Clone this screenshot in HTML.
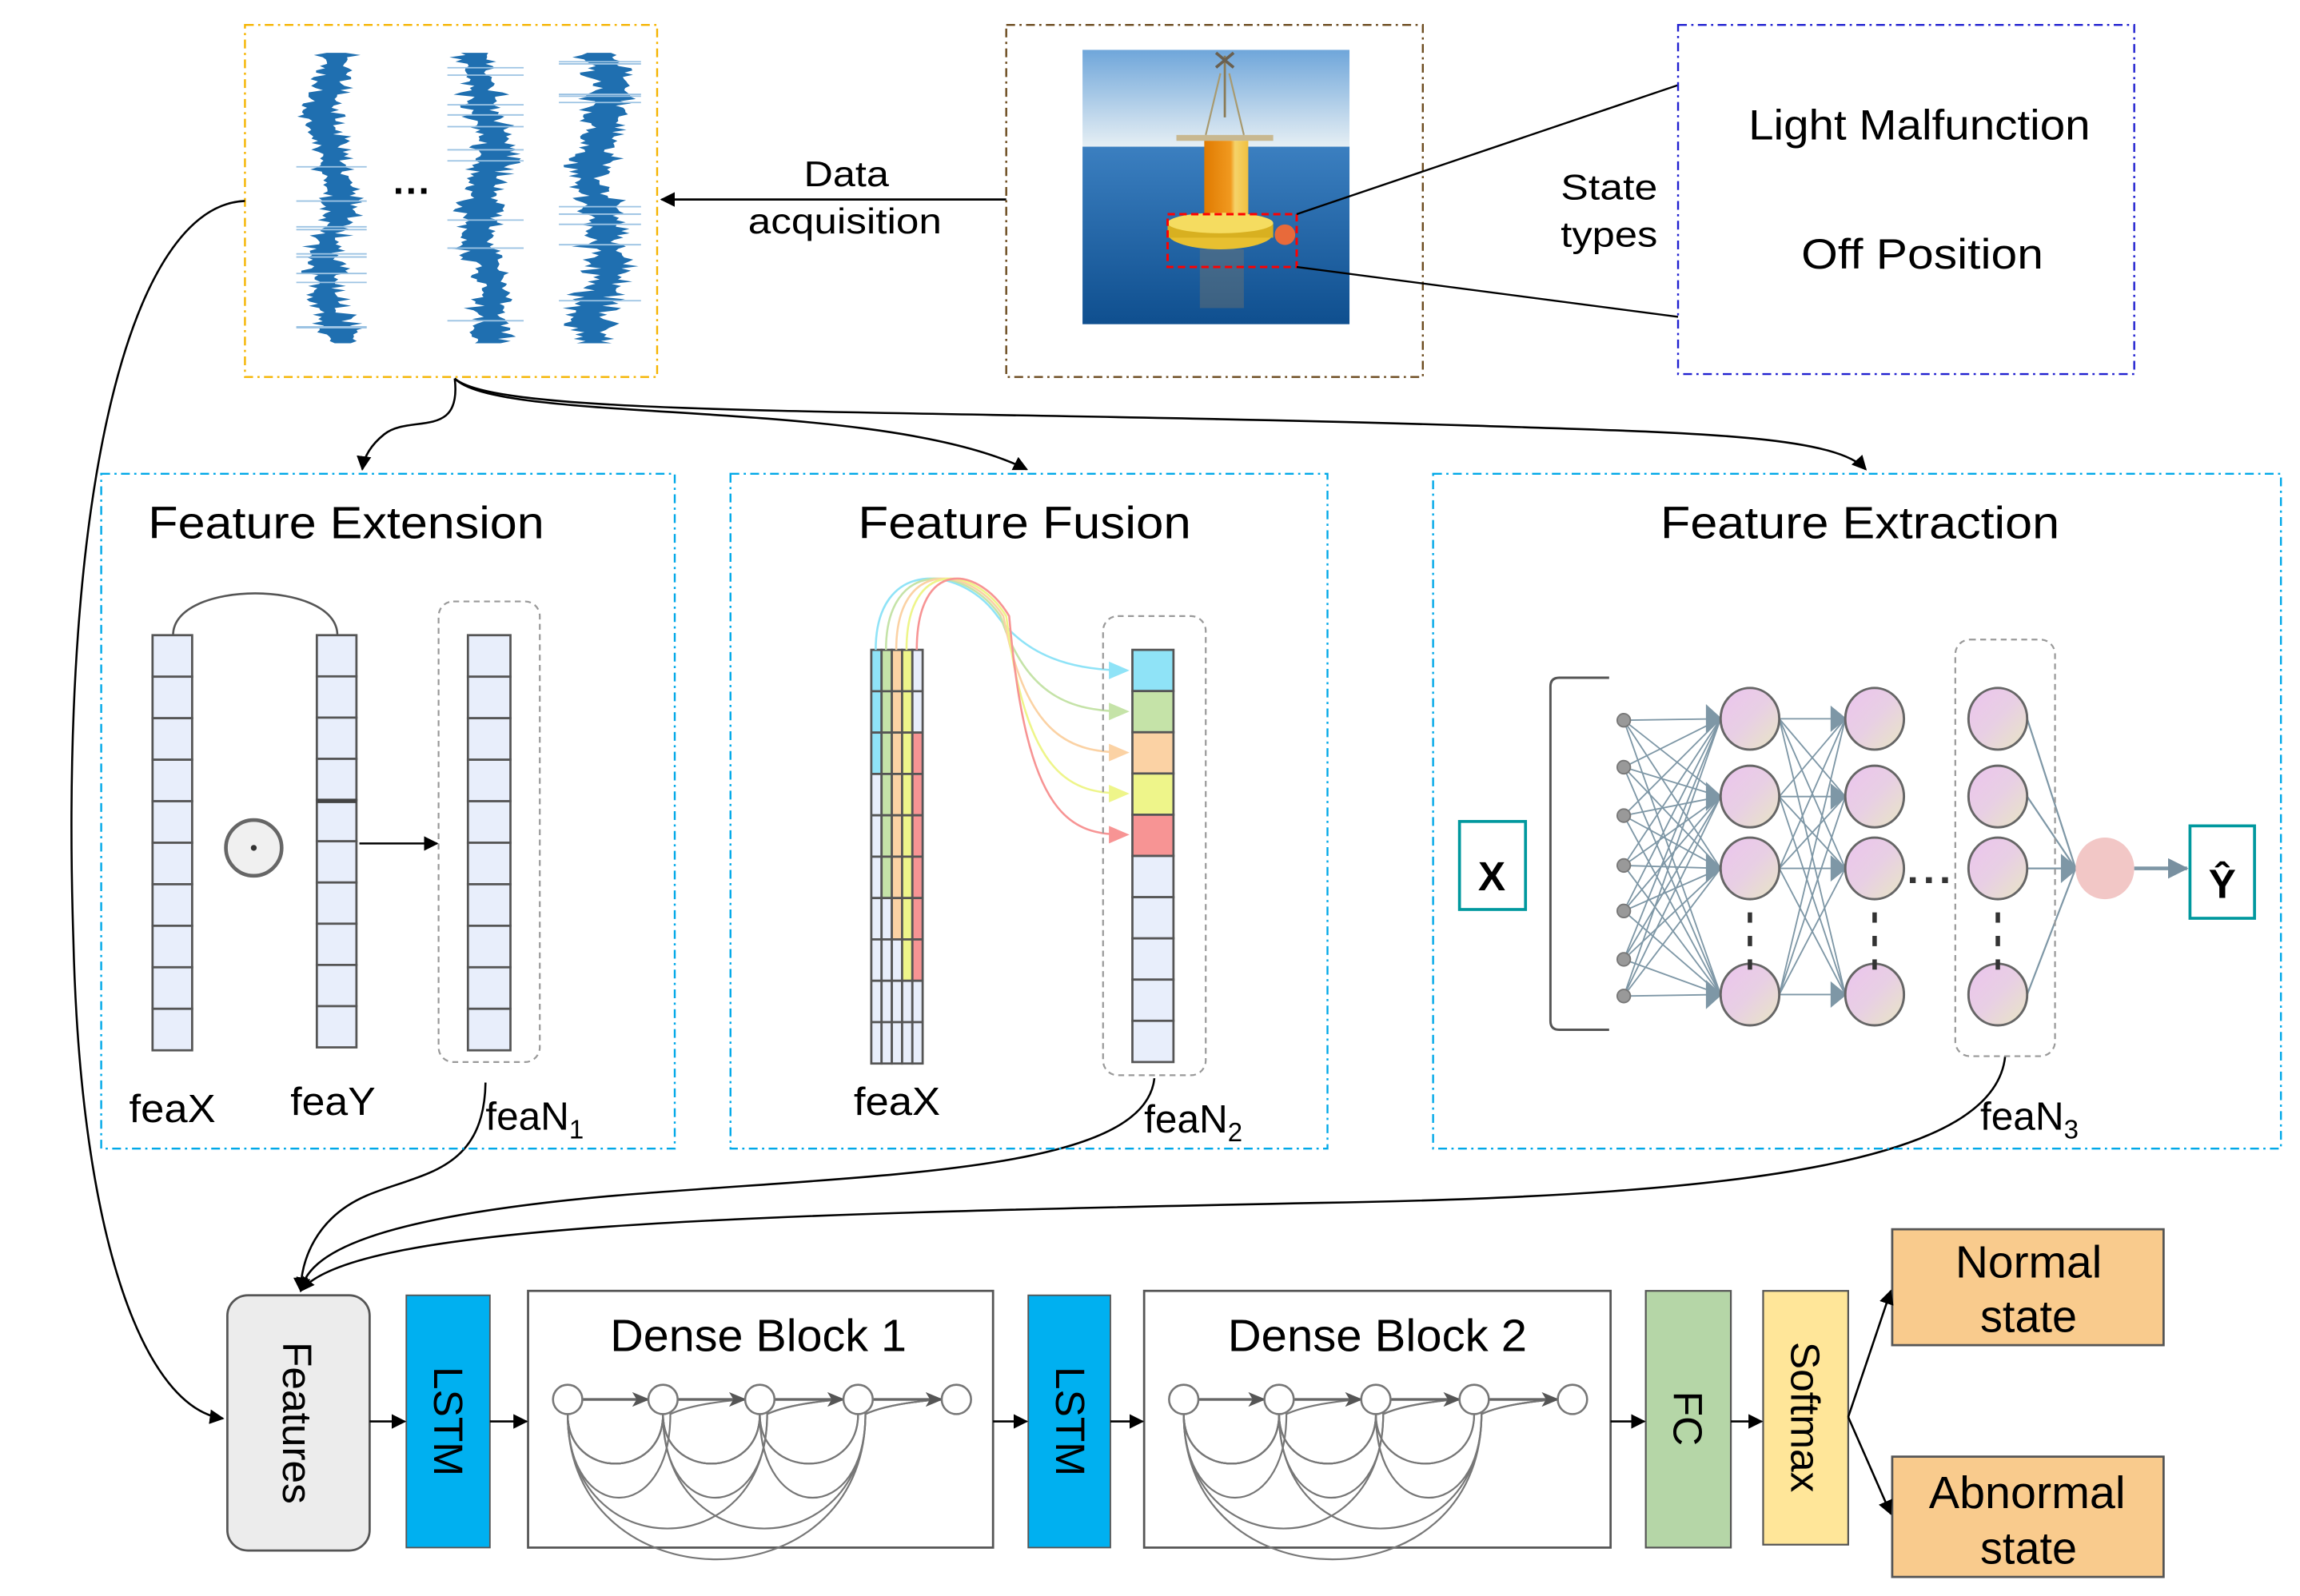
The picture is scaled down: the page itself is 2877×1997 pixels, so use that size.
<!DOCTYPE html>
<html><head><meta charset="utf-8"><style>
html,body{margin:0;padding:0;background:#fff;}
svg{display:block;}
text{font-family:"Liberation Sans",Arial,sans-serif;}
</style></head><body>
<svg id="s" width="2877" height="1997" viewBox="0 0 1568 1088" preserveAspectRatio="none" xmlns="http://www.w3.org/2000/svg">
<defs>
<marker id="ah" markerWidth="10" markerHeight="10" refX="9" refY="5" orient="auto" markerUnits="userSpaceOnUse"><path d="M0,0 L10,5 L0,10 Z" fill="#000"/></marker>
<marker id="ahg" markerWidth="12" markerHeight="10" refX="11" refY="5" orient="auto" markerUnits="userSpaceOnUse"><path d="M0,0 L12,5 L0,10 L3,5 Z" fill="#555"/></marker>
<marker id="ahn" markerWidth="14" markerHeight="14" refX="13" refY="7" orient="auto" markerUnits="userSpaceOnUse"><path d="M0,0 L14,7 L0,14 Z" fill="#7890a0"/></marker>
<linearGradient id="sky" x1="0" y1="0" x2="0" y2="1"><stop offset="0" stop-color="#6fa6da"/><stop offset="1" stop-color="#e6eff4"/></linearGradient>
<linearGradient id="sea" x1="0" y1="0" x2="0" y2="1"><stop offset="0" stop-color="#3b7fc0"/><stop offset="1" stop-color="#0f4f8f"/></linearGradient>
<linearGradient id="nodeg" x1="0" y1="0" x2="1" y2="1"><stop offset="0" stop-color="#ecc4ee"/><stop offset="0.5" stop-color="#e8cfe4"/><stop offset="1" stop-color="#e8e6c4"/></linearGradient>
<linearGradient id="orng" x1="0" y1="0" x2="1" y2="0"><stop offset="0" stop-color="#e07a00"/><stop offset="0.6" stop-color="#f19a20"/><stop offset="0.7" stop-color="#f5d36a"/><stop offset="1" stop-color="#f0c040"/></linearGradient>
</defs>

<rect x="167" y="17" width="281" height="240" fill="none" stroke="#f5b400" stroke-width="1.3" stroke-dasharray="6,3,1.5,3"/>
<g id="waves"></g>
<text x="281" y="139" font-size="26" text-anchor="middle" font-weight="bold">···</text>

<line x1="686" y1="136" x2="451" y2="136" stroke="#000" stroke-width="1.5" marker-end="url(#ah)"/>
<text x="548" y="127" font-size="24" textLength="58" lengthAdjust="spacingAndGlyphs">Data</text>
<text x="510" y="159" font-size="24" textLength="132" lengthAdjust="spacingAndGlyphs">acquisition</text>

<rect x="686" y="17" width="284" height="240" fill="none" stroke="#6b4a1e" stroke-width="1.3" stroke-dasharray="6,3,1.5,3"/>
<rect x="738" y="34" width="182" height="66" fill="url(#sky)"/>
<rect x="738" y="100" width="182" height="121" fill="url(#sea)"/>
<g>
<line x1="835" y1="38" x2="835" y2="80" stroke="#8a7a55" stroke-width="1.5"/>
<path d="M829,36 L841,46 M841,36 L829,46" stroke="#6a6050" stroke-width="2"/>
<path d="M832,50 L822,92 M838,50 L848,92" stroke="#a89a70" stroke-width="1.2"/>
<rect x="802" y="92" width="66" height="4" fill="#c8b890"/>
<rect x="821" y="96" width="30" height="56" fill="url(#orng)"/>
<ellipse cx="832" cy="159" rx="36" ry="11" fill="#e8c030"/>
<rect x="796" y="152" width="72" height="10" fill="#d8b020"/>
<ellipse cx="832" cy="152" rx="36" ry="7" fill="#f5dc60"/>
<circle cx="876" cy="160" r="7" fill="#e86a3a"/>
<rect x="818" y="170" width="30" height="40" fill="#8a7a60" opacity="0.35"/>
</g>
<rect x="796" y="146" width="88" height="36" fill="none" stroke="#ff0000" stroke-width="1.6" stroke-dasharray="5,3"/>
<line x1="884" y1="146" x2="1144" y2="58" stroke="#000" stroke-width="1.3"/>
<line x1="884" y1="182" x2="1144" y2="216" stroke="#000" stroke-width="1.3"/>
<text x="1064" y="136" font-size="24" textLength="66" lengthAdjust="spacingAndGlyphs">State</text>
<text x="1064" y="168" font-size="24" textLength="66" lengthAdjust="spacingAndGlyphs">types</text>

<rect x="1144" y="17" width="311" height="238" fill="none" stroke="#2020d0" stroke-width="1.3" stroke-dasharray="6,3,1.5,3"/>
<text x="1192" y="95" font-size="29" textLength="233" lengthAdjust="spacingAndGlyphs">Light Malfunction</text>
<text x="1228" y="183" font-size="29" textLength="165" lengthAdjust="spacingAndGlyphs">Off Position</text>

<g fill="none" stroke="#000" stroke-width="1.4">
<path d="M310,258 C315,300 280,282 262,296 C252,304 248,312 247,320" marker-end="url(#ah)"/>
<path d="M310,258 C340,290 600,270 700,320" marker-end="url(#ah)"/>
<path d="M310,258 C340,285 600,278 1000,290 C1150,295 1250,296 1272,320" marker-end="url(#ah)"/>
<path d="M167,137 C90,140 40,330 50,640 C55,850 100,960 152,967" marker-end="url(#ah)"/>
<path d="M331,738 C330,800 285,800 250,815 C215,830 205,860 205,880" marker-end="url(#ah)"/>
<path d="M787,735 C780,800 600,800 420,815 C250,830 210,855 205,880" marker-end="url(#ah)"/>
<path d="M1367,720 C1360,790 1200,815 900,820 C500,828 240,835 205,880" marker-end="url(#ah)"/>
</g>

<rect x="69" y="323" width="391" height="460" fill="none" stroke="#00a8e8" stroke-width="1.3" stroke-dasharray="6,3,1.5,3"/>
<text x="101" y="367" font-size="31" textLength="270" lengthAdjust="spacingAndGlyphs">Feature  Extension</text>
<g id="fe"></g>
<path d="M118,433 C118,395 230,395 230,433" fill="none" stroke="#555" stroke-width="1.4"/>
<circle cx="173" cy="578" r="19" fill="#f0f0f0" stroke="#666" stroke-width="2.5"/>
<circle cx="173" cy="578" r="2" fill="#333"/>
<line x1="245" y1="575" x2="298" y2="575" stroke="#000" stroke-width="1.4" marker-end="url(#ah)"/>
<rect x="299" y="410" width="69" height="314" rx="10" fill="none" stroke="#999" stroke-width="1.2" stroke-dasharray="4,3"/>
<text x="88" y="765" font-size="27" textLength="59" lengthAdjust="spacingAndGlyphs">feaX</text>
<text x="198" y="760" font-size="27" textLength="58" lengthAdjust="spacingAndGlyphs">feaY</text>
<text x="331" y="770" font-size="27">feaN<tspan font-size="18" dy="6">1</tspan></text>

<rect x="498" y="323" width="407" height="460" fill="none" stroke="#00a8e8" stroke-width="1.3" stroke-dasharray="6,3,1.5,3"/>
<text x="585" y="367" font-size="31" textLength="227" lengthAdjust="spacingAndGlyphs">Feature  Fusion</text>
<g id="ff"></g>
<rect x="752" y="420" width="70" height="313" rx="10" fill="none" stroke="#999" stroke-width="1.2" stroke-dasharray="4,3"/>
<text x="582" y="760" font-size="27" textLength="59" lengthAdjust="spacingAndGlyphs">feaX</text>
<text x="780" y="772" font-size="27">feaN<tspan font-size="18" dy="6">2</tspan></text>

<rect x="977" y="323" width="578" height="460" fill="none" stroke="#00a8e8" stroke-width="1.3" stroke-dasharray="6,3,1.5,3"/>
<text x="1132" y="367" font-size="31" textLength="272" lengthAdjust="spacingAndGlyphs">Feature  Extraction</text>
<rect x="995" y="560" width="45" height="60" fill="#fff" stroke="#00989e" stroke-width="2"/>
<text x="1017" y="607" font-size="28" font-weight="bold" text-anchor="middle">X</text>
<path d="M1097,462 L1063,462 Q1057,462 1057,468 L1057,696 Q1057,702 1063,702 L1097,702" fill="none" stroke="#555" stroke-width="1.6"/>
<g id="nn"></g>
<rect x="1333" y="436" width="68" height="284" rx="10" fill="none" stroke="#999" stroke-width="1.2" stroke-dasharray="4,3"/>
<rect x="1493" y="563" width="44" height="63" fill="#fff" stroke="#00989e" stroke-width="2"/>
<text x="1515" y="612" font-size="28" font-weight="bold" text-anchor="middle">Ŷ</text>
<text x="1350" y="770" font-size="27">feaN<tspan font-size="18" dy="6">3</tspan></text>

<rect x="155" y="883" width="97" height="174" rx="14" fill="#ececec" stroke="#555" stroke-width="1.5"/>
<text transform="translate(193,970) rotate(90)" font-size="28" text-anchor="middle">Features</text>
<rect x="277" y="883" width="57" height="172" fill="#00b0f0" stroke="#555" stroke-width="1"/>
<text transform="translate(296,969) rotate(90)" font-size="28" text-anchor="middle">LSTM</text>
<rect x="360" y="880" width="317" height="175" fill="#fff" stroke="#555" stroke-width="1.5"/>
<text x="416" y="921" font-size="31" textLength="202" lengthAdjust="spacingAndGlyphs">Dense Block 1</text>
<g id="db1"></g>
<rect x="701" y="883" width="56" height="172" fill="#00b0f0" stroke="#555" stroke-width="1"/>
<text transform="translate(720,969) rotate(90)" font-size="28" text-anchor="middle">LSTM</text>
<rect x="780" y="880" width="318" height="175" fill="#fff" stroke="#555" stroke-width="1.5"/>
<text x="837" y="921" font-size="31" textLength="204" lengthAdjust="spacingAndGlyphs">Dense Block 2</text>
<g id="db2"></g>
<rect x="1122" y="880" width="58" height="175" fill="#b5d6a7" stroke="#555" stroke-width="1.2"/>
<text transform="translate(1141,967) rotate(90)" font-size="28" text-anchor="middle">FC</text>
<rect x="1202" y="880" width="58" height="173" fill="#ffe699" stroke="#555" stroke-width="1.2"/>
<text transform="translate(1221,966) rotate(90)" font-size="28" text-anchor="middle">Softmax</text>
<rect x="1290" y="838" width="185" height="79" fill="#f9cb8d" stroke="#555" stroke-width="1.5"/>
<text x="1333" y="871" font-size="31" textLength="100" lengthAdjust="spacingAndGlyphs">Normal</text>
<text x="1350" y="908" font-size="31" textLength="66" lengthAdjust="spacingAndGlyphs">state</text>
<rect x="1290" y="993" width="185" height="82" fill="#f9cb8d" stroke="#555" stroke-width="1.5"/>
<text x="1315" y="1028" font-size="31" textLength="134" lengthAdjust="spacingAndGlyphs">Abnormal</text>
<text x="1350" y="1066" font-size="31" textLength="66" lengthAdjust="spacingAndGlyphs">state</text>
<g stroke="#000" stroke-width="1.4" fill="none">
<line x1="252" y1="969" x2="276" y2="969" marker-end="url(#ah)"/>
<line x1="334" y1="969" x2="359" y2="969" marker-end="url(#ah)"/>
<line x1="677" y1="969" x2="700" y2="969" marker-end="url(#ah)"/>
<line x1="757" y1="969" x2="779" y2="969" marker-end="url(#ah)"/>
<line x1="1098" y1="969" x2="1121" y2="969" marker-end="url(#ah)"/>
<line x1="1180" y1="969" x2="1201" y2="969" marker-end="url(#ah)"/>
<line x1="1260" y1="966" x2="1289" y2="880" marker-end="url(#ah)"/>
<line x1="1260" y1="966" x2="1289" y2="1032" marker-end="url(#ah)"/>
</g>
</svg>
<script>
var NS="http://www.w3.org/2000/svg";
function el(p,t,a){var e=document.createElementNS(NS,t);for(var k in a)e.setAttribute(k,a[k]);p.appendChild(e);return e;}
var seed=7;function rnd(){seed=(seed*16807)%2147483647;return seed/2147483647;}
var w=document.getElementById('waves');
[[226,20],[331,22],[409,24]].forEach(function(c,ci){
 var pts=[];for(var y=36;y<=234;y+=1.5){var amp=c[1]*(0.35+0.55*rnd());var off=Math.sin(y/17+ci*2)*6+Math.sin(y/7)*2;pts.push([c[0]+off,y,amp]);}
 var L=pts.map(function(p){return (p[0]-p[2]*(0.4+rnd()*0.7)).toFixed(1)+","+p[1].toFixed(1);});
 var R=pts.slice().reverse().map(function(p){return (p[0]+p[2]*(0.4+rnd()*0.7)).toFixed(1)+","+p[1].toFixed(1);});
 el(w,'polygon',{points:L.concat(R).join(" "),fill:"#1f6fb0"});
 for(var i=0;i<10;i++){var yy=40+rnd()*190;el(w,'line',{x1:c[0]-c[1]-4,x2:c[0]+c[1]+4,y1:yy,y2:yy,stroke:"#9cc3e3","stroke-width":1});}
});
function col(g,x,y,wd,h,n,fills){for(var i=0;i<n;i++){el(g,'rect',{x:x,y:y+i*h,width:wd,height:h,fill:fills?fills[i]:"#e8eefb",stroke:"#555","stroke-width":1.5});}}
var fe=document.getElementById('fe');
col(fe,104,433,27,28.3,10);col(fe,216,433,27,28.1,10);col(fe,319,433,29,28.3,10);
el(fe,'line',{x1:216,x2:243,y1:546,y2:546,stroke:"#444","stroke-width":3});
var ff=document.getElementById('ff');
var cc=["#8fe3f7","#c5e3a8","#fbd2a4","#eef58a","#f79494"];
for(var k=0;k<5;k++){var f=[];for(var i=0;i<10;i++){var on=(k==0&&i<3)||(k==1&&i<6)||(k==2&&i<7)||(k==3&&i<8)||(k==4&&i>=2&&i<8);f.push(on?cc[k]:"#e8eefb");}col(ff,594+k*7,443,7,28.2,10,f);}
var fc=cc.concat(["#e8eefb","#e8eefb","#e8eefb","#e8eefb","#e8eefb"]);col(ff,772,443,28,28.1,10,fc);
for(var k=0;k<5;k++){var x0=597+k*7,ty=457+k*28;
 el(ff,'path',{d:"M"+x0+",443 C"+x0+",380 "+(655+k*3)+",385 "+(680+k*2)+",420 C"+(700)+","+(ty-10)+" 730,"+ty+" 768,"+ty,fill:"none",stroke:cc[k],"stroke-width":1.4});
 el(ff,'path',{d:"M756,"+(ty-6)+" L770,"+ty+" L756,"+(ty+6)+" Z",fill:cc[k]});}
var nn=document.getElementById('nn');var lc="#7e97a6";
var inY=[491,523,556,590,621,654,679];var l1=[490,543,592,678],l3=[490,543,592,678];
var x1=1193,x2=1278,x3=1362;
inY.forEach(function(a){l1.forEach(function(b){el(nn,'line',{x1:1107,y1:a,x2:x1-20,y2:b,stroke:lc,"stroke-width":1});});});
l1.forEach(function(a){l1.forEach(function(b){el(nn,'line',{x1:x1+20,y1:a,x2:x2-20,y2:b,stroke:lc,"stroke-width":1});});});
l1.forEach(function(b){el(nn,'path',{d:"M"+(x1-30)+","+(b-10)+" L"+(x1-19)+","+b+" L"+(x1-30)+","+(b+10)+" Z",fill:lc});el(nn,'path',{d:"M"+(x2-30)+","+(b-9)+" L"+(x2-19)+","+b+" L"+(x2-30)+","+(b+9)+" Z",fill:lc});});
l3.forEach(function(a){el(nn,'line',{x1:x3+20,y1:a,x2:1415,y2:592,stroke:lc,"stroke-width":1.2});});
el(nn,'path',{d:"M1405,582 L1417,592 L1405,602 Z",fill:lc});
inY.forEach(function(a){el(nn,'circle',{cx:1107,cy:a,r:4.5,fill:"#999",stroke:"#777"});});
[x1,x2,x3].forEach(function(x){l1.forEach(function(b){el(nn,'ellipse',{cx:x,cy:b,rx:20,ry:21,fill:"url(#nodeg)",stroke:"#666","stroke-width":1.6});});
 for(var j=0;j<3;j++)el(nn,'rect',{x:x-1.5,y:622+j*16,width:3,height:7,fill:"#333"});});
for(var j=0;j<3;j++)el(nn,'rect',{x:1302+j*11,y:598,width:4,height:4,fill:"#333"});
el(nn,'ellipse',{cx:1435,cy:592,rx:20,ry:21,fill:"#f2c7c6"});
el(nn,'line',{x1:1455,y1:592,x2:1491,y2:592,stroke:lc,"stroke-width":2.5,"marker-end":"url(#ahn)"});
function db(g,x0){var xs=[0,65,131,198,265].map(function(v){return x0+v;});var y=954;
 for(var i=0;i<5;i++)for(var j=i+1;j<5;j++){
  if(j==i+1){el(g,'line',{x1:xs[i]+10,y1:y,x2:xs[j]-10,y2:y,stroke:"#666","stroke-width":1.8,"marker-end":"url(#ahg)"});}
  else{var dep=30+(j-i)*28;el(g,'path',{d:"M"+xs[i]+","+(y+10)+" C"+xs[i]+","+(y+dep)+" "+(xs[j-1]+5)+","+(y+dep)+" "+(xs[j-1]+5)+","+(y+10)+" Q"+(xs[j-1]+20)+","+(y+3)+" "+(xs[j]-12)+","+y,fill:"none",stroke:"#777","stroke-width":1.2});}
  if(i+1<4){el(g,'path',{d:"M"+xs[i]+","+(y+10)+" C"+xs[i]+","+(y+55)+" "+xs[i+1]+","+(y+55)+" "+xs[i+1]+","+(y+10),fill:"none",stroke:"#777","stroke-width":1.2});}
 }
 xs.forEach(function(x){el(g,'circle',{cx:x,cy:y,r:10,fill:"#fff",stroke:"#777","stroke-width":1.4});});}
db(document.getElementById('db1'),387);db(document.getElementById('db2'),807);
</script>
</body></html>
